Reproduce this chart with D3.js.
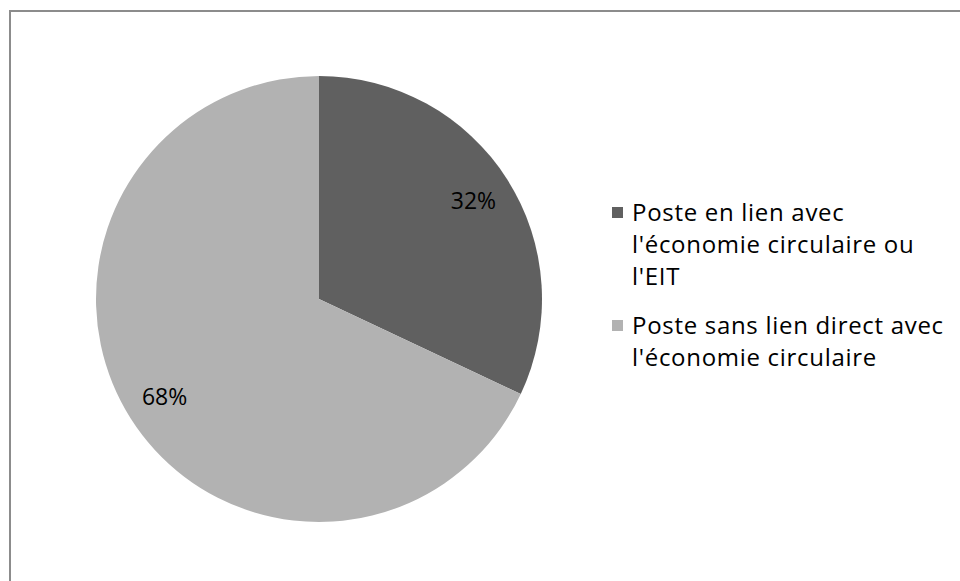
<!DOCTYPE html>
<html lang="fr">
<head>
<meta charset="utf-8">
<script src="https://d3js.org/d3.v7.min.js"></script>
<style>
  body { margin: 0; background: #fff; }
  text { font-family: "Open Sans", "Noto Sans", sans-serif; fill: #000; }
</style>
</head>
<body>
<svg id="chart" width="960" height="581"></svg>
<script>
// data
const categories = ["Poste en lien avec l'économie circulaire ou l'EIT",
                    "Poste sans lien direct avec l'économie circulaire"];
const values = [32, 68];
const legendLines = [["Poste en lien avec", "l'économie circulaire ou", "l'EIT"],
                     ["Poste sans lien direct avec", "l'économie circulaire"]];
const colors = ["#606060", "#b2b2b2"];

const svg = d3.select("#chart");

// outer frame (only top and left visible, chart cropped)
svg.append("path")
  .attr("d", "M10,581 V11 H960")
  .attr("fill", "none")
  .attr("stroke", "#8c8c8c")
  .attr("stroke-width", 2);

const cx = 319, cy = 299, r = 223;

const pie = d3.pie().sort(null).value(d => d);
const arcs = pie(values);
const arc = d3.arc().innerRadius(0).outerRadius(r);
const labelArc = d3.arc().innerRadius(r * 0.82).outerRadius(r * 0.82);

const g = svg.append("g").attr("transform", `translate(${cx},${cy})`);

g.selectAll("path.slice")
  .data(arcs)
  .join("path")
  .attr("class", "slice")
  .attr("d", arc)
  .attr("fill", (d, i) => colors[i]);

g.selectAll("text.lbl")
  .data(arcs)
  .join("text")
  .attr("class", "lbl")
  .attr("transform", d => `translate(${labelArc.centroid(d)})`)
  .attr("text-anchor", "middle")
  .attr("dy", "0.35em")
  .style("font-size", "23px")
  .text(d => d.data + "%");

// legend
const legend = svg.append("g").attr("transform", "translate(612,0)");
const itemTops = [213, 326];
legendLines.forEach((lines, i) => {
  legend.append("rect")
    .attr("x", 0)
    .attr("y", itemTops[i] - 6)
    .attr("width", 11)
    .attr("height", 11)
    .attr("fill", colors[i]);
  const t = legend.append("text")
    .attr("x", 20)
    .attr("y", itemTops[i])
    .style("font-size", "24px")
    .style("letter-spacing", "0.7px");
  lines.forEach((ln, j) => {
    t.append("tspan")
      .attr("x", 20)
      .attr("dy", j === 0 ? "0.35em" : "32px")
      .text(ln);
  });
});
</script>
</body>
</html>
